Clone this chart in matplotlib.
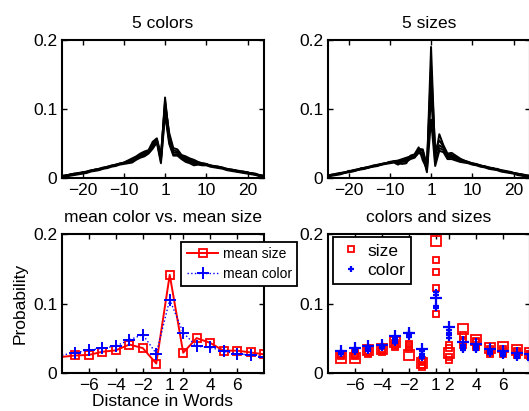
import numpy as np
import matplotlib.pyplot as plt

plt.rcParams['font.family'] = ['Liberation Sans', 'DejaVu Sans']
plt.rcParams['font.size'] = 12.5
plt.rcParams['axes.linewidth'] = 1.5
plt.rcParams['xtick.direction'] = 'in'
plt.rcParams['ytick.direction'] = 'in'
plt.rcParams['xtick.top'] = True
plt.rcParams['ytick.right'] = True
plt.rcParams['xtick.major.size'] = 3.5
plt.rcParams['ytick.major.size'] = 3.5
plt.rcParams['xtick.major.width'] = 1.0
plt.rcParams['ytick.major.width'] = 1.0
plt.rcParams['xtick.major.pad'] = 3.5
plt.rcParams['ytick.major.pad'] = 3.5

# distance in words, 0 left out
distances = [d for d in range(-25, 26) if d != 0]

# 5 colors: probability per distance (d = -25..-1, 1..25)
color_probs = [
    [0.002, 0.003, 0.004, 0.005, 0.006, 0.007, 0.008, 0.010, 0.011, 0.012, 0.014, 0.015, 0.017, 0.018, 0.020, 0.021, 0.022,
     0.023, 0.027, 0.030, 0.032, 0.036, 0.043, 0.052, 0.022,
     0.093, 0.050, 0.033, 0.033, 0.028, 0.024, 0.022, 0.019,
     0.020, 0.019, 0.019, 0.017, 0.016, 0.015, 0.014, 0.012, 0.011, 0.010, 0.009, 0.008, 0.007, 0.006, 0.005, 0.003, 0.002],
    [0.003, 0.004, 0.005, 0.006, 0.007, 0.008, 0.009, 0.011, 0.012, 0.013, 0.015, 0.016, 0.018, 0.019, 0.021, 0.022, 0.023,
     0.024, 0.028, 0.032, 0.034, 0.038, 0.045, 0.054, 0.025,
     0.097, 0.054, 0.035, 0.035, 0.030, 0.026, 0.024, 0.021,
     0.021, 0.020, 0.020, 0.018, 0.017, 0.016, 0.015, 0.013, 0.012, 0.011, 0.010, 0.009, 0.008, 0.007, 0.006, 0.004, 0.003],
    [0.004, 0.004, 0.006, 0.007, 0.008, 0.009, 0.010, 0.011, 0.013, 0.014, 0.015, 0.017, 0.018, 0.020, 0.021, 0.023, 0.025,
     0.026, 0.029, 0.033, 0.035, 0.039, 0.047, 0.055, 0.028,
     0.117, 0.058, 0.038, 0.037, 0.031, 0.028, 0.026, 0.023,
     0.022, 0.021, 0.020, 0.019, 0.017, 0.016, 0.015, 0.014, 0.012, 0.011, 0.010, 0.009, 0.009, 0.007, 0.006, 0.005, 0.003],
    [0.003, 0.005, 0.005, 0.006, 0.008, 0.008, 0.010, 0.012, 0.012, 0.014, 0.016, 0.016, 0.019, 0.019, 0.022, 0.022, 0.025,
     0.027, 0.030, 0.034, 0.037, 0.040, 0.050, 0.057, 0.031,
     0.112, 0.062, 0.041, 0.039, 0.032, 0.030, 0.027, 0.025,
     0.023, 0.022, 0.021, 0.018, 0.018, 0.017, 0.016, 0.013, 0.013, 0.012, 0.011, 0.010, 0.008, 0.008, 0.007, 0.004, 0.004],
    [0.004, 0.004, 0.006, 0.007, 0.007, 0.009, 0.009, 0.011, 0.013, 0.013, 0.015, 0.017, 0.018, 0.020, 0.021, 0.023, 0.026,
     0.029, 0.032, 0.036, 0.039, 0.041, 0.053, 0.058, 0.034,
     0.108, 0.066, 0.044, 0.042, 0.034, 0.032, 0.029, 0.027,
     0.024, 0.022, 0.021, 0.019, 0.018, 0.017, 0.015, 0.014, 0.013, 0.012, 0.010, 0.010, 0.009, 0.007, 0.006, 0.005, 0.004],
]

# 5 sizes: probability per distance (d = -25..-1, 1..25)
size_probs = [
    [0.003, 0.004, 0.005, 0.006, 0.008, 0.009, 0.010, 0.012, 0.013, 0.014, 0.016, 0.017, 0.018, 0.020, 0.021, 0.022, 0.023,
     0.020, 0.024, 0.024, 0.028, 0.030, 0.037, 0.034, 0.009,
     0.085, 0.018, 0.040, 0.038, 0.028, 0.028, 0.026, 0.024,
     0.023, 0.022, 0.020, 0.019, 0.017, 0.016, 0.014, 0.013, 0.012, 0.010, 0.009, 0.008, 0.007, 0.005, 0.004, 0.003, 0.002],
    [0.004, 0.005, 0.006, 0.007, 0.008, 0.010, 0.011, 0.012, 0.014, 0.015, 0.016, 0.018, 0.019, 0.020, 0.022, 0.023, 0.024,
     0.023, 0.026, 0.026, 0.029, 0.031, 0.039, 0.037, 0.011,
     0.123, 0.023, 0.044, 0.041, 0.030, 0.030, 0.028, 0.026,
     0.025, 0.023, 0.021, 0.020, 0.018, 0.017, 0.015, 0.014, 0.013, 0.011, 0.010, 0.009, 0.008, 0.006, 0.005, 0.004, 0.003],
    [0.005, 0.005, 0.007, 0.008, 0.009, 0.010, 0.012, 0.013, 0.014, 0.016, 0.017, 0.018, 0.020, 0.021, 0.022, 0.024, 0.025,
     0.025, 0.027, 0.028, 0.031, 0.033, 0.041, 0.040, 0.016,
     0.145, 0.036, 0.048, 0.044, 0.032, 0.032, 0.030, 0.027,
     0.026, 0.024, 0.022, 0.021, 0.019, 0.017, 0.016, 0.015, 0.013, 0.012, 0.011, 0.009, 0.008, 0.007, 0.006, 0.005, 0.004],
    [0.004, 0.006, 0.006, 0.007, 0.009, 0.010, 0.011, 0.013, 0.014, 0.015, 0.017, 0.018, 0.019, 0.021, 0.022, 0.023, 0.025,
     0.026, 0.028, 0.030, 0.032, 0.034, 0.043, 0.042, 0.018,
     0.163, 0.040, 0.055, 0.046, 0.034, 0.034, 0.031, 0.028,
     0.025, 0.024, 0.021, 0.020, 0.019, 0.017, 0.015, 0.015, 0.013, 0.011, 0.011, 0.009, 0.008, 0.006, 0.006, 0.004, 0.003],
    [0.004, 0.005, 0.006, 0.008, 0.008, 0.011, 0.011, 0.012, 0.015, 0.015, 0.016, 0.019, 0.019, 0.021, 0.022, 0.024, 0.024,
     0.022, 0.021, 0.022, 0.033, 0.035, 0.045, 0.026, 0.014,
     0.190, 0.029, 0.064, 0.048, 0.036, 0.037, 0.033, 0.029,
     0.026, 0.023, 0.022, 0.020, 0.018, 0.018, 0.016, 0.014, 0.014, 0.012, 0.010, 0.010, 0.008, 0.007, 0.005, 0.004, 0.004],
]

top_ticks = [-20, -10, 0, 10, 20]
top_labels = ['\u221220', '\u221210', '1', '10', '20']
bottom_ticks = [-6, -4, -2, 0, 1, 3, 5]
bottom_labels = ['\u22126', '\u22124', '\u22122', '1', '2', '4', '6']
y_ticks = [0, 0.1, 0.2]
y_labels = ['0', '0.1', '0.2']

# 0 is skipped on the axis, so 1 sits right next to -1
pos = np.array([d if d < 0 else d - 1 for d in distances])
dist = np.array(distances)
colors = np.array(color_probs)
sizes = np.array(size_probs)

fig = plt.figure(figsize=(5.29, 4.11), dpi=100)
W, H = 529.0, 411.0
def px_axes(x0, x1, y0, y1):
    return fig.add_axes([x0 / W, 1 - y1 / H, (x1 - x0) / W, (y1 - y0) / H])

ax_tl = px_axes(62, 264, 40, 178.5)
ax_tr = px_axes(328, 530, 40, 178.5)
ax_bl = px_axes(62, 264, 234, 373)
ax_br = px_axes(328, 530, 234, 373)

for ax, probs, title in [(ax_tl, colors, '5 colors'), (ax_tr, sizes, '5 sizes')]:
    for row in probs:
        ax.plot(pos, row, color='black', lw=1.4)
    ax.set_xlim(-25, 24)
    ax.set_xticks(top_ticks)
    ax.set_xticklabels(top_labels)
    ax.set_title(title, fontsize=12.5, pad=9)

# mean color vs. mean size
sel = (dist >= -8) & (dist <= 8)
n = sel.sum()
ax_bl.plot(pos[sel], sizes[:, sel].mean(axis=0), '-s', color='red', lw=1.4,
           ms=6, mfc='none', mew=1.3, markevery=list(range(1, n)), label='mean size')
ax_bl.plot(pos[sel], colors[:, sel].mean(axis=0), ':+', color='blue', lw=1.0,
           ms=8, mew=1.4, markevery=list(range(1, n)), label='mean color')
leg = ax_bl.legend(loc='upper left', bbox_to_anchor=(0.589, 0.945), borderaxespad=0,
                   fontsize=10, fancybox=False, framealpha=1, edgecolor='black',
                   handlelength=2.3, handletextpad=0.3, borderpad=0.4, labelspacing=0.4)
leg.get_frame().set_linewidth(1.3)
ax_bl.set_title('mean color vs. mean size', fontsize=12.5, pad=9)
ax_bl.set_xlabel('Distance in Words', fontsize=12.5, labelpad=1)
ax_bl.set_ylabel('Probability', fontsize=12.5, labelpad=4)

# colors and sizes
sel2 = (dist >= -7) & (dist <= 8)
for i, row in enumerate(sizes):
    big = i == len(sizes) - 1
    ax_br.plot(pos[sel2], row[sel2], 's', color='red', mfc='none',
               ms=7 if big else 4, mew=1.3, label='size' if i == 0 else None)
for i, row in enumerate(colors):
    big = i == len(colors) - 1
    ax_br.plot(pos[sel2], row[sel2], '+', color='blue',
               ms=8 if big else 5, mew=1.6, label='color' if i == 0 else None)
leg2 = ax_br.legend(loc='upper left', bbox_to_anchor=(0.023, 0.976), borderaxespad=0,
                    fontsize=12.5, fancybox=False, framealpha=1, edgecolor='black',
                    handlelength=1.4, handletextpad=0.25, borderpad=0.35, labelspacing=0.25)
leg2.get_frame().set_linewidth(1.3)
ax_br.set_title('colors and sizes', fontsize=12.5, pad=9)

for ax in (ax_bl, ax_br):
    ax.set_xlim(-8, 7)
    ax.set_xticks(bottom_ticks)
    ax.set_xticklabels(bottom_labels)

for ax in (ax_tl, ax_tr, ax_bl, ax_br):
    ax.set_ylim(0, 0.2)
    ax.set_yticks(y_ticks)
    ax.set_yticklabels(y_labels)
    ax.tick_params(labelsize=12.5)

plt.savefig('out.png', dpi=100)
